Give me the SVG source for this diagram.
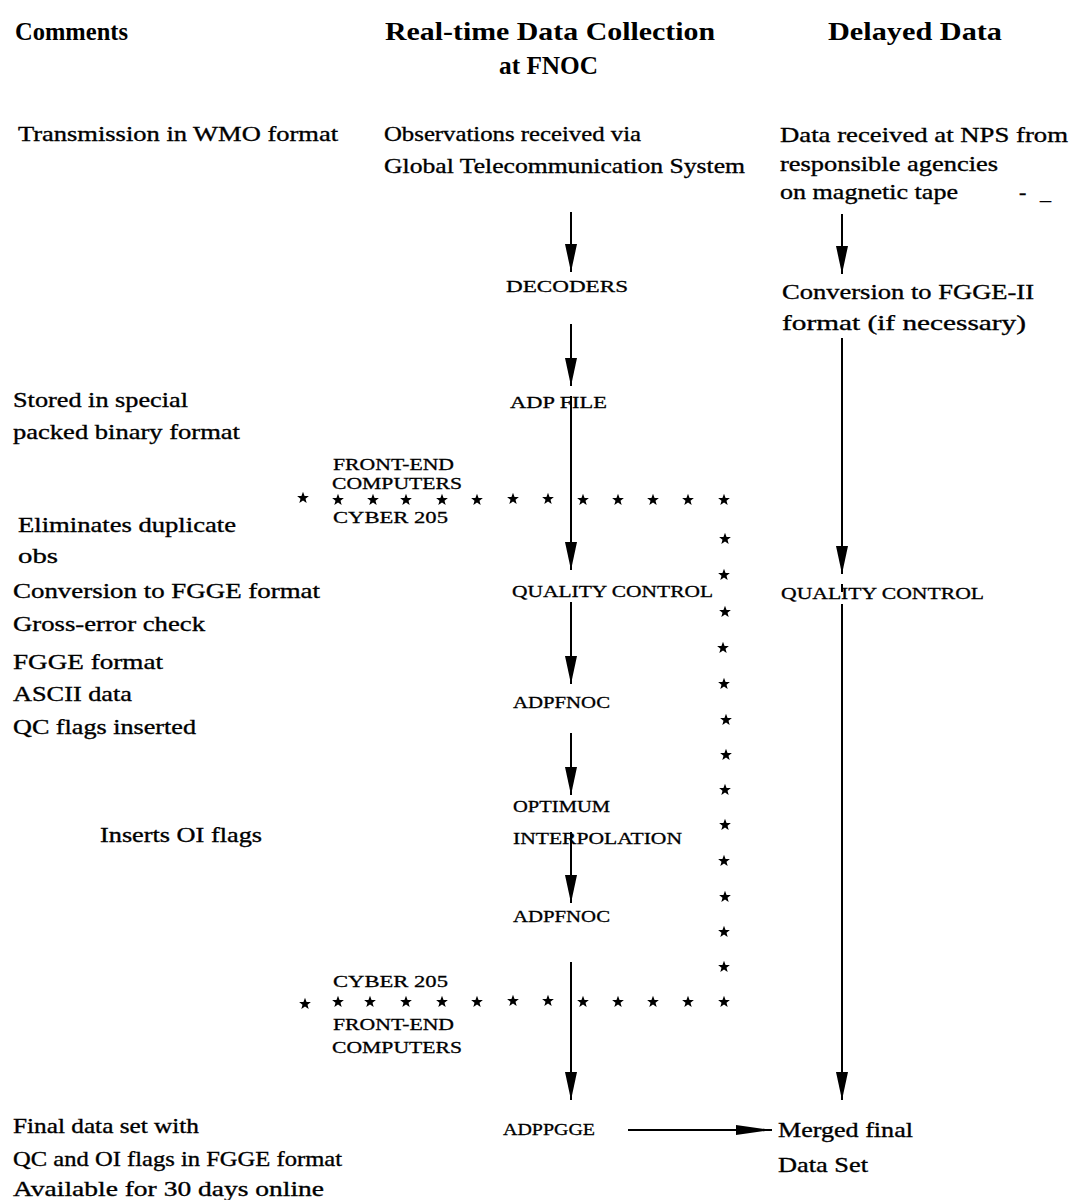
<svg xmlns="http://www.w3.org/2000/svg" width="1073" height="1200" viewBox="0 0 1073 1200">
<style>
.h{font-family:"Liberation Serif",serif;font-weight:bold;font-size:26px;fill:#000}
.t{font-family:"Liberation Serif",serif;font-size:22px;fill:#000;stroke:#000;stroke-width:0.35}
.s{font-family:"Liberation Serif",serif;font-size:17.5px;fill:#000;stroke:#000;stroke-width:0.3}
.c{stroke:#000;stroke-width:2;fill:none}
</style>
<defs>
<marker id="ah" markerUnits="userSpaceOnUse" markerWidth="30" markerHeight="14" refX="28" refY="6" orient="auto">
<path d="M0,0 L28,6 L0,12 z" fill="#000"/>
</marker>
<marker id="ahh" markerUnits="userSpaceOnUse" markerWidth="38" markerHeight="12" refX="36" refY="5" orient="auto">
<path d="M0,0 L36,5 L0,10 z" fill="#000"/>
</marker>
<path id="st" d="M0,-6.2 L1.55,-2.1 L5.9,-1.9 L2.5,0.8 L3.65,5 L0,2.6 L-3.65,5 L-2.5,0.8 L-5.9,-1.9 L-1.55,-2.1 z" fill="#000"/>
</defs>

<g id="headers">
<text class="h" x="15" y="40" textLength="113" lengthAdjust="spacingAndGlyphs">Comments</text>
<text class="h" x="385" y="40" textLength="330" lengthAdjust="spacingAndGlyphs">Real-time Data Collection</text>
<text class="h" x="499" y="74" textLength="99" lengthAdjust="spacingAndGlyphs">at FNOC</text>
<text class="h" x="828" y="40" textLength="174" lengthAdjust="spacingAndGlyphs">Delayed Data</text>
</g>

<g id="comments">
<text class="t" x="18" y="141" textLength="320" lengthAdjust="spacingAndGlyphs">Transmission in WMO format</text>
<text class="t" x="13" y="407" textLength="175" lengthAdjust="spacingAndGlyphs">Stored in special</text>
<text class="t" x="13" y="439" textLength="227" lengthAdjust="spacingAndGlyphs">packed binary format</text>
<text class="t" x="18" y="532" textLength="218" lengthAdjust="spacingAndGlyphs">Eliminates duplicate</text>
<text class="t" x="18" y="563" textLength="40" lengthAdjust="spacingAndGlyphs">obs</text>
<text class="t" x="13" y="598" textLength="307" lengthAdjust="spacingAndGlyphs">Conversion to FGGE format</text>
<text class="t" x="13" y="631" textLength="192" lengthAdjust="spacingAndGlyphs">Gross-error check</text>
<text class="t" x="13" y="669" textLength="150" lengthAdjust="spacingAndGlyphs">FGGE format</text>
<text class="t" x="13" y="701" textLength="119" lengthAdjust="spacingAndGlyphs">ASCII data</text>
<text class="t" x="13" y="734" textLength="183" lengthAdjust="spacingAndGlyphs">QC flags inserted</text>
<text class="t" x="100" y="842" textLength="162" lengthAdjust="spacingAndGlyphs">Inserts OI flags</text>
<text class="t" x="13" y="1133" textLength="186" lengthAdjust="spacingAndGlyphs">Final data set with</text>
<text class="t" x="13" y="1166" textLength="329" lengthAdjust="spacingAndGlyphs">QC and OI flags in FGGE format</text>
<text class="t" x="13" y="1196" textLength="311" lengthAdjust="spacingAndGlyphs">Available for 30 days online</text>
</g>

<g id="n-observations">
<text class="t" x="384" y="141" textLength="257" lengthAdjust="spacingAndGlyphs">Observations received via</text>
<text class="t" x="384" y="173" textLength="361" lengthAdjust="spacingAndGlyphs">Global Telecommunication System</text>
</g>
<g id="n-decoders"><text class="s" x="506" y="292" textLength="122" lengthAdjust="spacingAndGlyphs">DECODERS</text></g>
<g id="n-adpfile"><text class="s" x="510" y="408" textLength="97" lengthAdjust="spacingAndGlyphs">ADP FILE</text></g>
<g id="n-frontend1">
<text class="s" x="333" y="470" textLength="121" lengthAdjust="spacingAndGlyphs">FRONT-END</text>
<text class="s" x="332" y="489" textLength="130" lengthAdjust="spacingAndGlyphs">COMPUTERS</text>
<text class="s" x="333" y="523" textLength="115" lengthAdjust="spacingAndGlyphs">CYBER 205</text>
</g>
<g id="n-qc"><text class="s" x="512" y="597" textLength="201" lengthAdjust="spacingAndGlyphs">QUALITY CONTROL</text></g>
<g id="n-adpfnoc1"><text class="s" x="513" y="708" textLength="97" lengthAdjust="spacingAndGlyphs">ADPFNOC</text></g>
<g id="n-oi">
<text class="s" x="513" y="812" textLength="97" lengthAdjust="spacingAndGlyphs">OPTIMUM</text>
<text class="s" x="513" y="844" textLength="169" lengthAdjust="spacingAndGlyphs">INTERPOLATION</text>
</g>
<g id="n-adpfnoc2"><text class="s" x="513" y="922" textLength="97" lengthAdjust="spacingAndGlyphs">ADPFNOC</text></g>
<g id="n-frontend2">
<text class="s" x="333" y="987" textLength="115" lengthAdjust="spacingAndGlyphs">CYBER 205</text>
<text class="s" x="333" y="1030" textLength="121" lengthAdjust="spacingAndGlyphs">FRONT-END</text>
<text class="s" x="332" y="1053" textLength="130" lengthAdjust="spacingAndGlyphs">COMPUTERS</text>
</g>
<g id="n-adppgge"><text class="s" x="503" y="1135" textLength="92" lengthAdjust="spacingAndGlyphs">ADPPGGE</text></g>

<g id="n-delayed">
<text class="t" x="780" y="142" textLength="288" lengthAdjust="spacingAndGlyphs">Data received at NPS from</text>
<text class="t" x="780" y="171" textLength="218" lengthAdjust="spacingAndGlyphs">responsible agencies</text>
<text class="t" x="780" y="199" textLength="178" lengthAdjust="spacingAndGlyphs">on magnetic tape</text>
<text class="t" x="1019" y="199">-</text>
<text class="t" x="1040" y="199">_</text>
</g>
<g id="n-conversion">
<text class="t" x="782" y="299" textLength="252" lengthAdjust="spacingAndGlyphs">Conversion to FGGE-II</text>
<text class="t" x="782" y="330" textLength="244" lengthAdjust="spacingAndGlyphs">format (if necessary)</text>
</g>
<g id="n-qc2"><text class="s" x="781" y="599" textLength="203" lengthAdjust="spacingAndGlyphs">QUALITY CONTROL</text></g>
<g id="n-merged">
<text class="t" x="778" y="1137" textLength="135" lengthAdjust="spacingAndGlyphs">Merged final</text>
<text class="t" x="778" y="1172" textLength="90" lengthAdjust="spacingAndGlyphs">Data Set</text>
</g>

<g id="connectors">
<line class="c" x1="571" y1="212" x2="571" y2="272" marker-end="url(#ah)"/>
<line class="c" x1="571" y1="324" x2="571" y2="386" marker-end="url(#ah)"/>
<line class="c" x1="571" y1="396" x2="571" y2="570" marker-end="url(#ah)"/>
<line class="c" x1="571" y1="602" x2="571" y2="684" marker-end="url(#ah)"/>
<line class="c" x1="571" y1="733" x2="571" y2="795" marker-end="url(#ah)"/>
<line class="c" x1="571" y1="832" x2="571" y2="903" marker-end="url(#ah)"/>
<line class="c" x1="571" y1="962" x2="571" y2="1100" marker-end="url(#ah)"/>
<line class="c" x1="842" y1="214" x2="842" y2="274" marker-end="url(#ah)"/>
<line class="c" x1="842" y1="338" x2="842" y2="574" marker-end="url(#ah)"/>
<line class="c" x1="842" y1="584" x2="842" y2="592"/>
<line class="c" x1="842" y1="604" x2="842" y2="1100" marker-end="url(#ah)"/>
<line class="c" x1="628" y1="1130" x2="772" y2="1130" marker-end="url(#ahh)"/>
</g>

<g id="star-boundary">
<use href="#st" x="303" y="498"/>
<use href="#st" x="338" y="500"/>
<use href="#st" x="373" y="500"/>
<use href="#st" x="406" y="500"/>
<use href="#st" x="442" y="500"/>
<use href="#st" x="477" y="500"/>
<use href="#st" x="513" y="499"/>
<use href="#st" x="548" y="499"/>
<use href="#st" x="583" y="500"/>
<use href="#st" x="618" y="500"/>
<use href="#st" x="653" y="500"/>
<use href="#st" x="688" y="500"/>
<use href="#st" x="724" y="500"/>
<use href="#st" x="725" y="539"/>
<use href="#st" x="724" y="575"/>
<use href="#st" x="725" y="612"/>
<use href="#st" x="723" y="648"/>
<use href="#st" x="724" y="684"/>
<use href="#st" x="726" y="720"/>
<use href="#st" x="726" y="755"/>
<use href="#st" x="725" y="790"/>
<use href="#st" x="725" y="825"/>
<use href="#st" x="724" y="861"/>
<use href="#st" x="725" y="897"/>
<use href="#st" x="724" y="932"/>
<use href="#st" x="724" y="967"/>
<use href="#st" x="724" y="1002"/>
<use href="#st" x="688" y="1002"/>
<use href="#st" x="653" y="1002"/>
<use href="#st" x="618" y="1002"/>
<use href="#st" x="583" y="1002"/>
<use href="#st" x="548" y="1001"/>
<use href="#st" x="513" y="1001"/>
<use href="#st" x="477" y="1002"/>
<use href="#st" x="442" y="1002"/>
<use href="#st" x="406" y="1002"/>
<use href="#st" x="370" y="1002"/>
<use href="#st" x="338" y="1002"/>
<use href="#st" x="305" y="1004"/>
</g>
</svg>
